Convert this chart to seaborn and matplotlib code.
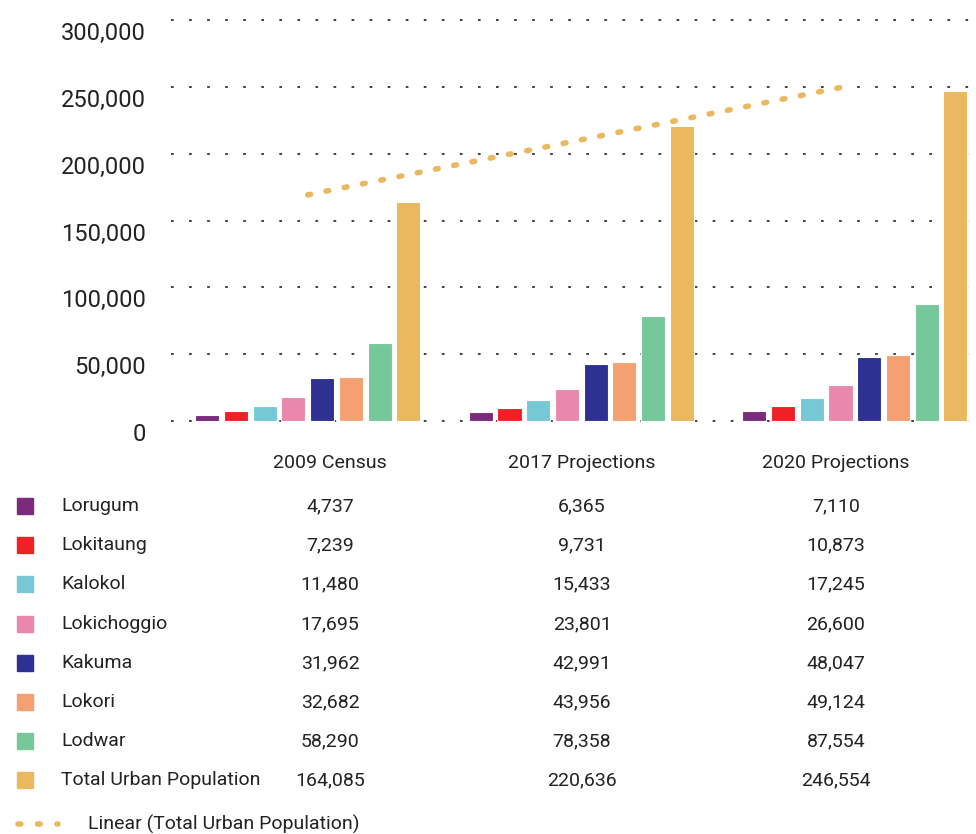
import numpy as np
import pandas as pd
import matplotlib
matplotlib.use("Agg")
import matplotlib.pyplot as plt
import matplotlib.transforms as mtransforms
import seaborn as sns
from matplotlib.lines import Line2D
from matplotlib.patches import Rectangle

# Data
periods = ['2009 Census', '2017 Projections', '2020 Projections']
towns = ['Lorugum', 'Lokitaung', 'Kalokol', 'Lokichoggio', 'Kakuma', 'Lokori', 'Lodwar',
         'Total Urban Population']
pop_2009 = [4737, 7239, 11480, 17695, 31962, 32682, 58290, 164085]
pop_2017 = [6365, 9731, 15433, 23801, 42991, 43956, 78358, 220636]
pop_2020 = [7110, 10873, 17245, 26600, 48047, 49124, 87554, 246554]
colors = ['#7B2A7E', '#EE2224', '#75C8D4', '#EA88AC', '#2E3192', '#F5A073', '#76C799', '#E9B85F']
trend_color = '#E9B85F'

# Long form table for seaborn
rows = []
for period, vals in zip(periods, [pop_2009, pop_2017, pop_2020]):
    for town, v in zip(towns, vals):
        rows.append({'Period': period, 'Town': town, 'Population': v})
df = pd.DataFrame(rows)

sns.set_theme(style='white')
plt.rcParams['font.family'] = ['Roboto', 'DejaVu Sans']

W, H = 976, 834
fig = plt.figure(figsize=(W / 100, H / 100), dpi=100)

# axes placement: y=0 at px 421, 300,000 at px 20; group centres at px 308 and 855
ymin, ymax = -2000, 305000
ppu = 401 / 300000
bot_px = 421 + (0 - ymin) * ppu
top_px = 20 - (ymax - 300000) * ppu
ax = fig.add_axes([171 / W, 1 - bot_px / H, (976 - 171) / W, (bot_px - top_px) / H])

sns.barplot(data=df, x='Period', y='Population', hue='Town', palette=colors, saturation=1,
            width=0.84, gap=0.16, edgecolor='white', linewidth=0.8,
            legend=False, ax=ax, zorder=3)

# linear trend for the total
totals = [pop_2009[-1], pop_2017[-1], pop_2020[-1]]
sns.regplot(x=np.arange(len(periods)), y=totals, scatter=False, ci=None, ax=ax,
            line_kws=dict(color=trend_color, lw=4, linestyle=(0, (0.5, 2.85)),
                          dash_capstyle='round', zorder=4))

ax.set_xlim(-0.5, 2.443)
ax.set_ylim(ymin, ymax)
ax.set_yticks(range(0, 300001, 50000))
ax.set_yticklabels([f'{v:,}' for v in range(0, 300001, 50000)], fontsize=17, color='#222222')
ax.tick_params(axis='y', length=0, pad=18)
# labels sit a little below their grid lines in the reference
shift = mtransforms.ScaledTranslation(0, -11 / 100, fig.dpi_scale_trans)
for lbl in ax.get_yticklabels():
    lbl.set_transform(lbl.get_transform() + shift)
ax.set_xticks([])
ax.set_xlabel('')
ax.set_ylabel('')
for s in ax.spines.values():
    s.set_visible(False)
ax.yaxis.grid(True, color='#333333', linestyle=(0, (1.5, 8.5)), linewidth=1.3, zorder=0)
ax.set_axisbelow(True)

# data table underneath
col_x = [330, 582, 836]
row_y = [506, 545, 584, 624, 663, 702, 741, 780]
for x, p in zip(col_x, periods):
    fig.text(x / W, 1 - 463 / H, p, ha='center', va='center', fontsize=14, color='#222222')
for i, town in enumerate(towns):
    y = 1 - row_y[i] / H
    fig.patches.append(Rectangle((17 / W, y - 8 / H), 16 / W, 16 / H, color=colors[i],
                                 transform=fig.transFigure, figure=fig))
    fig.text(61 / W, y, town, ha='left', va='center', fontsize=14, color='#222222')
    for x, vals in zip(col_x, [pop_2009, pop_2017, pop_2020]):
        fig.text(x / W, y, f'{vals[i]:,}', ha='center', va='center', fontsize=14, color='#222222')

# trend legend entry
ty = 1 - 824 / H
fig.lines.append(Line2D([18 / W, 58 / W], [ty, ty], transform=fig.transFigure, color=trend_color,
                        lw=4, linestyle=(0, (0.5, 3.0)), dash_capstyle='round'))
fig.text(88 / W, ty, 'Linear (Total Urban Population)', ha='left', va='center', fontsize=14,
         color='#222222')

fig.savefig('out.png', dpi=100, facecolor='white')
